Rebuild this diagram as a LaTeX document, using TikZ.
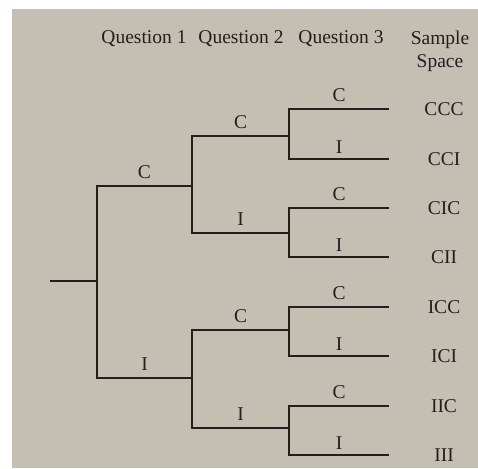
\documentclass[tikz,border=0pt]{standalone}
\usepackage{fontspec}
\setmainfont{Liberation Serif}
\usetikzlibrary{positioning}
\definecolor{paper}{RGB}{196,190,179}
\definecolor{ink}{RGB}{35,31,31}
\tikzset{
  % tree branch style
  garr/.style={
    line width = 1.6pt, draw=ink
  },
  lbl/.style={text=ink, font=\fontsize{19.5}{22}\selectfont, inner sep=0pt},
  hdr/.style={lbl, align=center},
}

\begin{document}
\begin{tikzpicture}[x=1pt, y=-1pt]
  % page
  \fill[white] (0,0) rectangle (478,468);
  \fill[paper] (12,9) rectangle (478,468);
  \useasboundingbox (0,0) rectangle (478,468);

  % headers
  \node[hdr] (q1) at (144,39) {Question 1};
  \node[hdr] (q2) at (241,39) {Question 2};
  \node[hdr] (q3) at (341,39) {Question 3};
  \node[hdr] (ss) at (440,51) {Sample\\[1pt]Space};

  % junctions
  \coordinate (start) at (50,281);
  \coordinate (n) at (97,281);
  \coordinate (nC) at (192,186);   % C
  \coordinate (nI) at (192,378);   % I
  \coordinate (nCC) at (289,136);
  \coordinate (nCI) at (289,233);
  \coordinate (nIC) at (289,330);
  \coordinate (nII) at (289,428);
  \coordinate (lCCC) at (389,109);
  \coordinate (lCCI) at (389,159);
  \coordinate (lCIC) at (389,208);
  \coordinate (lCII) at (389,257);
  \coordinate (lICC) at (389,307);
  \coordinate (lICI) at (389,356);
  \coordinate (lIIC) at (389,406);
  \coordinate (lIII) at (389,455);

  \draw[garr] (start) -- (n);
  % question 1
  \draw[garr] (n) |- node[lbl, pos=0.75, above=7pt] {C} (nC);
  \draw[garr] (n) |- node[lbl, pos=0.75, above=7pt] {I} (nI);
  % question 2
  \draw[garr] (nC) |- node[lbl, pos=0.75, above=7pt] {C} (nCC);
  \draw[garr] (nC) |- node[lbl, pos=0.75, above=7pt] {I} (nCI);
  \draw[garr] (nI) |- node[lbl, pos=0.75, above=7pt] {C} (nIC);
  \draw[garr] (nI) |- node[lbl, pos=0.75, above=7pt] {I} (nII);
  % question 3
  \foreach \p in {CC, CI, IC, II} {
    \draw[garr] (n\p) |- node[lbl, pos=0.75, above=7pt] {C} (l\p C);
    \draw[garr] (n\p) |- node[lbl, pos=0.75, above=5pt] {I} (l\p I);
  }

  % sample space
  \foreach \s in {CCC, CCI, CIC, CII, ICC, ICI, IIC, III}
    \node[lbl, anchor=center] (s\s) at ([xshift=55pt]l\s) {\s};
\end{tikzpicture}
\end{document}
